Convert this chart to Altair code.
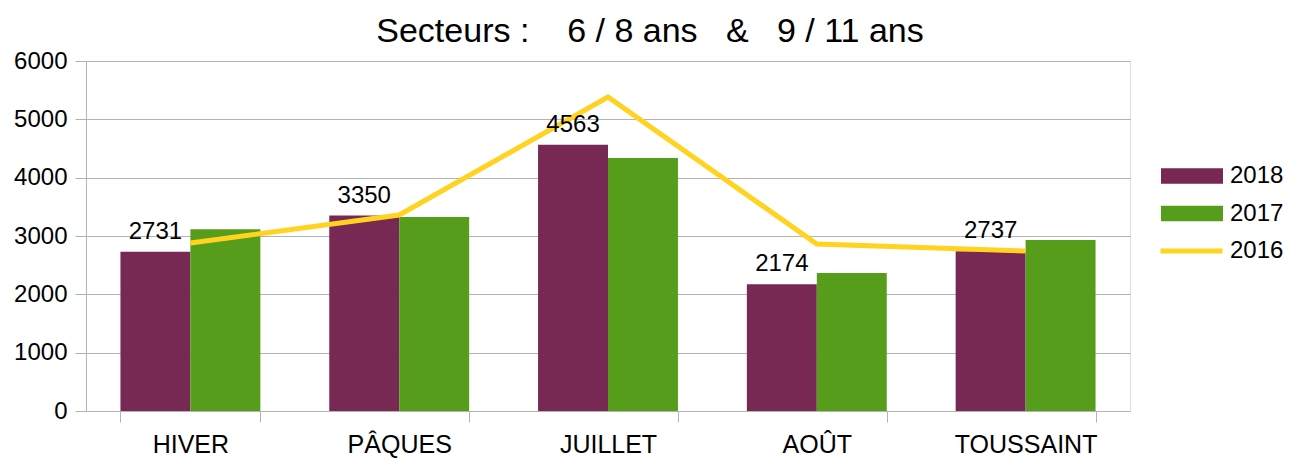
import altair as alt
import pandas as pd

categories = ["HIVER", "PÂQUES", "JUILLET", "AOÛT", "TOUSSAINT"]
v2018 = [2731, 3350, 4563, 2174, 2737]
v2017 = [3115, 3326, 4337, 2366, 2931]
v2016 = [2880, 3360, 5383, 2863, 2743]
bar_series = ["2018", "2017"]
bar_colors = ["#772953", "#579D1C"]
line_series = ["2016"]
line_colors = ["#FFD320"]
y_ticks = [0, 1000, 2000, 3000, 4000, 5000, 6000]
title_text = "Secteurs :\u00a0\u00a0\u00a0\u00a06 / 8 ans\u00a0\u00a0\u00a0&\u00a0\u00a0\u00a09 / 11 ans"

FONT = "Liberation Sans"
GRID = "#b3b3b3"

bars_df = pd.DataFrame({
    "cat": categories * 2,
    "serie": [bar_series[0]] * len(categories) + [bar_series[1]] * len(categories),
    "val": v2018 + v2017,
})
line_df = pd.DataFrame({"cat": categories, "serie": line_series * len(categories), "val": v2016})
label_df = pd.DataFrame({"cat": categories, "serie": [bar_series[0]] * len(categories), "val": v2018})

x_enc = alt.X(
    "cat:N", sort=categories,
    scale=alt.Scale(paddingInner=0.33, paddingOuter=0.165),
    axis=alt.Axis(title=None, labelAngle=0, tickBand="extent", tickSize=11, labelPadding=30,
                  labelBaseline="alphabetic",
                  labelFontSize=25, labelFont=FONT, labelColor="black",
                  domainColor=GRID, tickColor=GRID, grid=False),
)
y_enc = alt.Y(
    "val:Q", scale=alt.Scale(domain=[0, 6000], nice=False),
    axis=alt.Axis(title=None, values=y_ticks, format="d", tickSize=11, labelPadding=8,
                  labelFontSize=24, labelFont=FONT, labelColor="black",
                  domainColor=GRID, tickColor=GRID, gridColor=GRID, grid=True),
)
xoff = alt.XOffset("serie:N", sort=bar_series, scale=alt.Scale(domain=bar_series, paddingInner=0, paddingOuter=0))

bars = alt.Chart(bars_df).mark_bar().encode(
    x=x_enc, y=y_enc, xOffset=xoff,
    color=alt.Color("serie:N", sort=bar_series,
                    scale=alt.Scale(domain=bar_series, range=bar_colors),
                    legend=alt.Legend(title=None, orient="none", legendX=1075, legendY=101,
                                      symbolType="M-1,-0.25L1,-0.25L1,0.25L-1,0.25Z",
                                      symbolSize=3844, symbolStrokeWidth=0,
                                      labelFontSize=24, labelFont=FONT, labelColor="black",
                                      labelOffset=7, clipHeight=28, rowPadding=9.5)),
)

line = alt.Chart(line_df).mark_line(strokeWidth=5).encode(
    x=x_enc, y=y_enc,
    stroke=alt.Stroke("serie:N", scale=alt.Scale(domain=line_series, range=line_colors),
                      legend=alt.Legend(title=None, orient="none", legendX=1072, legendY=176,
                                        symbolType="stroke", symbolSize=3844, symbolStrokeWidth=5,
                                        labelFontSize=24, labelFont=FONT, labelColor="black",
                                        labelOffset=5, clipHeight=28)),
)

labels = alt.Chart(label_df).mark_text(dy=-13, baseline="alphabetic", fontSize=24, font=FONT, color="black").encode(
    x=x_enc, y=y_enc, xOffset=xoff, text=alt.Text("val:Q", format="d"),
)

chart = alt.layer(bars, line, labels).properties(
    width=1044, height=350,
    title=alt.TitleParams(title_text, fontSize=34, font=FONT, fontWeight="normal", color="black",
                          anchor="middle", dx=42, offset=0),
    autosize=alt.AutoSizeParams(type="none"),
    padding={"left": 78, "top": 53, "right": 153, "bottom": 49},
).configure_view(stroke=GRID, strokeWidth=1).configure(font=FONT, background="white")

chart.save("out.html", embed_options={"renderer": "svg", "actions": False})
